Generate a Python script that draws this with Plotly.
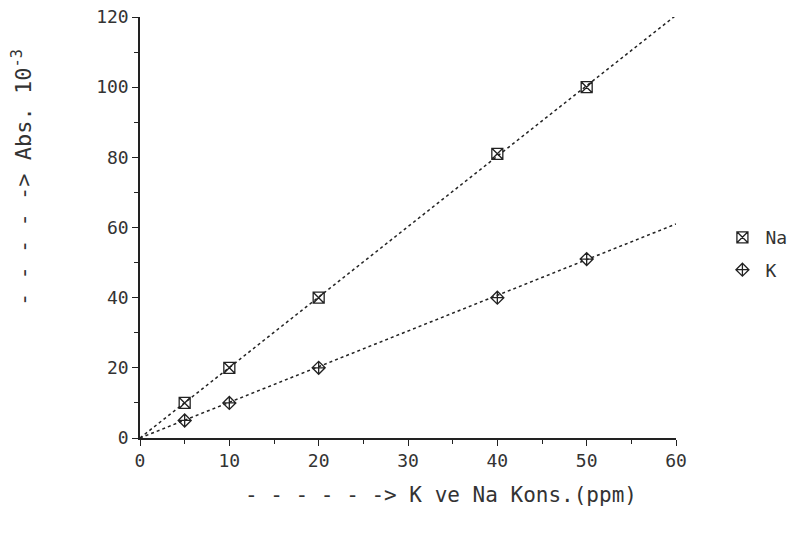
import plotly.graph_objects as go

# Data
conc = [5, 10, 20, 40, 50]
na_abs = [10, 20, 40, 81, 100]
k_abs = [5, 10, 20, 40, 51]
# calibration line end points
fit_x = [0, 60]
na_fit = [0, 120.5]
k_fit = [0, 61]

x_ticks = [0, 10, 20, 30, 40, 50, 60]
y_ticks = [0, 20, 40, 60, 80, 100, 120]

ink = "#222222"
txt = "#333333"
fnt = "DejaVu Sans Mono"

fig = go.Figure()
fig.add_trace(go.Scatter(x=fit_x, y=na_fit, mode="lines", showlegend=False,
                         line=dict(color=ink, width=1.5, dash="dot"), hoverinfo="skip"))
fig.add_trace(go.Scatter(x=fit_x, y=k_fit, mode="lines", showlegend=False,
                         line=dict(color=ink, width=1.5, dash="dot"), hoverinfo="skip"))
fig.add_trace(go.Scatter(x=conc, y=na_abs, mode="markers", name="Na", legendgroup="na",
                         marker=dict(symbol="square-x-open", size=11, color=ink,
                                     line=dict(width=1.3, color=ink))))
fig.add_trace(go.Scatter(x=conc, y=k_abs, mode="markers", name="K", legendgroup="k",
                         marker=dict(symbol="diamond-cross-open", size=10, color=ink,
                                     line=dict(width=1.3, color=ink))))

fig.update_layout(
    width=796, height=534,
    margin=dict(l=140, r=120, t=17, b=96, autoexpand=False),
    paper_bgcolor="white", plot_bgcolor="white",
    font=dict(family=fnt, size=18, color=txt),
    legend=dict(x=1.081, y=0.52, xanchor="left", yanchor="top",
                bgcolor="rgba(0,0,0,0)", font=dict(size=18, family=fnt, color=txt),
                itemwidth=36, tracegroupgap=6),
    xaxis=dict(range=[0, 60], tickvals=x_ticks, showgrid=False, zeroline=False,
               showline=True, linecolor=ink, linewidth=1.5, automargin=False,
               ticks="outside", ticklen=6, tickcolor=ink, tickwidth=1.2,
               minor=dict(dtick=5, ticks="outside", ticklen=4, tickcolor=ink),
               tickfont=dict(size=18, family=fnt, color=txt)),
    yaxis=dict(range=[0, 120], tickvals=y_ticks, showgrid=False, zeroline=False,
               showline=True, linecolor=ink, linewidth=1.5, automargin=False,
               ticks="outside", ticklen=6, tickcolor=ink, tickwidth=1.2,
               minor=dict(dtick=10, ticks="outside", ticklen=4, tickcolor=ink),
               tickfont=dict(size=18, family=fnt, color=txt)),
    annotations=[
        dict(text="- - - - - -&gt; K ve Na Kons.(ppm)", xref="paper", yref="paper",
             x=(441 - 140) / 536, y=-(495 - 438) / 421, xanchor="center", yanchor="middle",
             showarrow=False, font=dict(size=21, family=fnt, color=txt)),
        dict(text="- - - - -&gt; Abs. 10<sup>-3</sup>", xref="paper", yref="paper",
             x=-(140 - 22) / 536, y=(438 - 178) / 421, xanchor="center", yanchor="middle",
             textangle=-90, showarrow=False, font=dict(size=22, family=fnt, color=txt)),
    ],
)

fig.write_html("out.html")
